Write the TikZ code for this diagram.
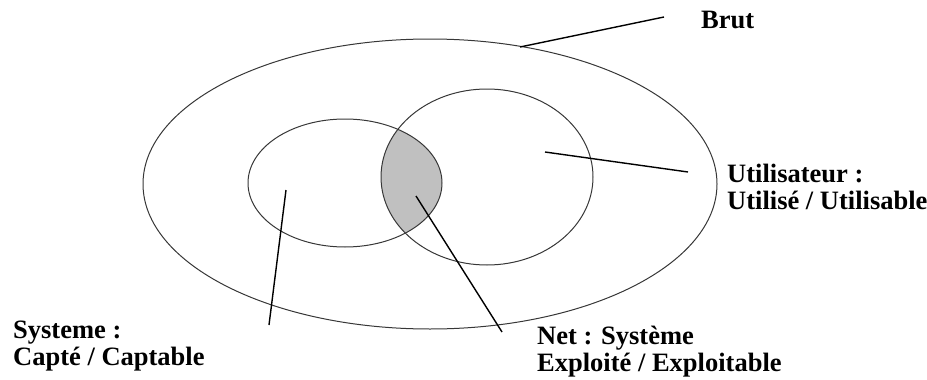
\documentclass[tikz,border=0pt]{standalone}
\usepackage{fontspec}
\setmainfont{Liberation Serif}
\usepackage{tikz}
\usetikzlibrary{calc}
\definecolor{lensgray}{RGB}{192,192,192}
\definecolor{rimgray}{RGB}{55,55,55}

\begin{document}
\begin{tikzpicture}[x=1pt, y=-1pt, line join=round,
  rim/.style={draw=rimgray, line width=1pt},
  pointer/.style={draw=black, line width=1.4pt},
  lbl/.style={anchor=base west, inner sep=0pt, align=left,
    font=\bfseries\fontsize{26.5}{27}\selectfont}]
\useasboundingbox (0,0) rectangle (927,380);
% shaded overlap
\begin{scope}
  \clip (345,183) ellipse [x radius=97, y radius=64];
  \fill[lensgray] (487,177) ellipse [x radius=106, y radius=88];
\end{scope}
% the three sets
\draw[rim] (430,184) ellipse [x radius=287, y radius=145];
\draw[rim] (345,183) ellipse [x radius=97, y radius=64];
\draw[rim] (487,177) ellipse [x radius=106, y radius=88];
% labels
\node[lbl] (brut) at (701,28) {Brut};
\node[lbl] (util) at (727,209) {Utilisateur :\\Utilisé / Utilisable};
\node[lbl] (sys) at (13,365) {Systeme :\\Capté / Captable};
\node[lbl] (net) at (537,371) {Net : Système\\Exploité / Exploitable};
% pointer lines
\coordinate (brutin) at (520,47);
\coordinate (brutout) at (664,17);
\coordinate (utilin) at (545,152);
\coordinate (utilout) at (688,172);
\coordinate (sysin) at (286,190);
\coordinate (sysout) at (269,325);
\coordinate (netin) at (416,196);
\coordinate (netout) at (502,332);
\draw[pointer] (brutin) -- (brutout);
\draw[pointer] (utilin) -- (utilout);
\draw[pointer] (sysin) -- (sysout);
\draw[pointer] (netin) -- (netout);
\end{tikzpicture}
\end{document}
